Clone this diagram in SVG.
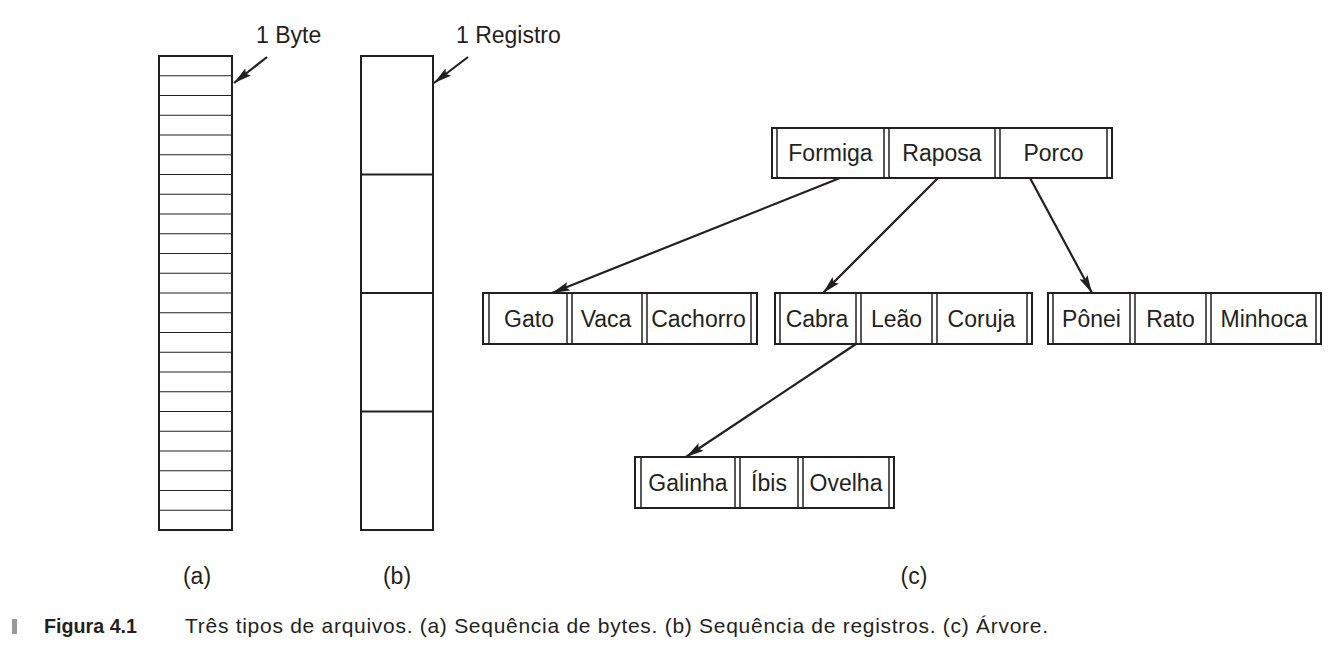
<svg xmlns="http://www.w3.org/2000/svg" width="1343" height="655" viewBox="0 0 1343 655">
<defs>
<style>
.t{font-family:"Liberation Sans",Arial,sans-serif;font-size:23px;fill:#231f20;text-anchor:middle}
.tl{font-family:"Liberation Sans",Arial,sans-serif;font-size:23px;fill:#231f20}
.box{fill:#fff;stroke:#231f20;stroke-width:2}
.div{stroke:#231f20;stroke-width:1.5}
.thin{stroke:#231f20;stroke-width:1.1}
.arr{stroke:#231f20;stroke-width:2.2;fill:none;marker-end:url(#ah)}
.cap{font-family:"Liberation Sans",Arial,sans-serif;font-size:21px;fill:#231f20}
</style>
<marker id="ah" viewBox="0 0 18 9" refX="18" refY="4.5" markerWidth="18" markerHeight="9" markerUnits="userSpaceOnUse" orient="auto">
<path d="M0,0 L18,4.5 L0,9 L3,4.5 Z" fill="#231f20"/>
</marker>
</defs>
<rect width="1343" height="655" fill="#fff"/>

<g id="colA">
<rect class="box" x="159" y="56" width="73" height="474"/>
<g class="thin">
<line x1="159" x2="232" y1="75.75" y2="75.75"/><line x1="159" x2="232" y1="95.5" y2="95.5"/>
<line x1="159" x2="232" y1="115.25" y2="115.25"/><line x1="159" x2="232" y1="135" y2="135"/>
<line x1="159" x2="232" y1="154.75" y2="154.75"/><line x1="159" x2="232" y1="174.5" y2="174.5"/>
<line x1="159" x2="232" y1="194.25" y2="194.25"/><line x1="159" x2="232" y1="214" y2="214"/>
<line x1="159" x2="232" y1="233.75" y2="233.75"/><line x1="159" x2="232" y1="253.5" y2="253.5"/>
<line x1="159" x2="232" y1="273.25" y2="273.25"/><line x1="159" x2="232" y1="293" y2="293"/>
<line x1="159" x2="232" y1="312.75" y2="312.75"/><line x1="159" x2="232" y1="332.5" y2="332.5"/>
<line x1="159" x2="232" y1="352.25" y2="352.25"/><line x1="159" x2="232" y1="372" y2="372"/>
<line x1="159" x2="232" y1="391.75" y2="391.75"/><line x1="159" x2="232" y1="411.5" y2="411.5"/>
<line x1="159" x2="232" y1="431.25" y2="431.25"/><line x1="159" x2="232" y1="451" y2="451"/>
<line x1="159" x2="232" y1="470.75" y2="470.75"/><line x1="159" x2="232" y1="490.5" y2="490.5"/>
<line x1="159" x2="232" y1="510.25" y2="510.25"/>
</g>
</g>

<g id="colB">
<rect class="box" x="361" y="56" width="72" height="474"/>
<line class="box" x1="361" x2="433" y1="174.5" y2="174.5"/>
<line class="box" x1="361" x2="433" y1="293" y2="293"/>
<line class="box" x1="361" x2="433" y1="411.5" y2="411.5"/>
</g>

<g id="labelByte"><text class="tl" x="256" y="43">1 Byte</text></g>
<g id="labelRegistro"><text class="tl" x="456" y="43">1 Registro</text></g>

<g id="nodeRoot">
<rect class="box" x="772" y="128" width="340" height="50"/>
<g class="div"><line x1="777" x2="777" y1="128" y2="178"/><line x1="884" x2="884" y1="128" y2="178"/><line x1="889" x2="889" y1="128" y2="178"/><line x1="995" x2="995" y1="128" y2="178"/><line x1="1000" x2="1000" y1="128" y2="178"/><line x1="1107" x2="1107" y1="128" y2="178"/></g>
<text class="t" x="830.5" y="161">Formiga</text><text class="t" x="942" y="161">Raposa</text><text class="t" x="1053.5" y="161">Porco</text>
</g>

<g id="nodeGato">
<rect class="box" x="483" y="293" width="274" height="51"/>
<g class="div"><line x1="489" x2="489" y1="293" y2="344"/><line x1="567" x2="567" y1="293" y2="344"/><line x1="572" x2="572" y1="293" y2="344"/><line x1="642" x2="642" y1="293" y2="344"/><line x1="647" x2="647" y1="293" y2="344"/><line x1="751" x2="751" y1="293" y2="344"/></g>
<text class="t" x="529" y="327">Gato</text><text class="t" x="606" y="327">Vaca</text><text class="t" x="698.5" y="327">Cachorro</text>
</g>

<g id="nodeCabra">
<rect class="box" x="775" y="293" width="257" height="51"/>
<g class="div"><line x1="780" x2="780" y1="293" y2="344"/><line x1="856" x2="856" y1="293" y2="344"/><line x1="861" x2="861" y1="293" y2="344"/><line x1="932" x2="932" y1="293" y2="344"/><line x1="937" x2="937" y1="293" y2="344"/><line x1="1027" x2="1027" y1="293" y2="344"/></g>
<text class="t" x="817" y="327">Cabra</text><text class="t" x="896.5" y="327">Leão</text><text class="t" x="981.5" y="327">Coruja</text>
</g>

<g id="nodePonei">
<rect class="box" x="1048" y="293" width="273" height="51"/>
<g class="div"><line x1="1053" x2="1053" y1="293" y2="344"/><line x1="1130" x2="1130" y1="293" y2="344"/><line x1="1135" x2="1135" y1="293" y2="344"/><line x1="1206" x2="1206" y1="293" y2="344"/><line x1="1211" x2="1211" y1="293" y2="344"/><line x1="1316" x2="1316" y1="293" y2="344"/></g>
<text class="t" x="1091.5" y="327">Pônei</text><text class="t" x="1170.5" y="327">Rato</text><text class="t" x="1264" y="327">Minhoca</text>
</g>

<g id="nodeGalinha">
<rect class="box" x="635" y="457" width="259" height="51"/>
<g class="div"><line x1="641" x2="641" y1="457" y2="508"/><line x1="735" x2="735" y1="457" y2="508"/><line x1="740" x2="740" y1="457" y2="508"/><line x1="798" x2="798" y1="457" y2="508"/><line x1="803" x2="803" y1="457" y2="508"/><line x1="889" x2="889" y1="457" y2="508"/></g>
<text class="t" x="688" y="491">Galinha</text><text class="t" x="769" y="491">Íbis</text><text class="t" x="846" y="491">Ovelha</text>
</g>

<g id="connectors">
<line class="arr" x1="267" y1="57" x2="234" y2="83"/>
<line class="arr" x1="468" y1="57" x2="434" y2="83"/>
<line class="arr" x1="840" y1="178" x2="552" y2="293"/>
<line class="arr" x1="938" y1="178" x2="823" y2="293"/>
<line class="arr" x1="1030" y1="178" x2="1092" y2="293"/>
<line class="arr" x1="856" y1="344" x2="686" y2="457"/>
</g>

<g id="sublabels">
<text class="t" x="197" y="584">(a)</text>
<text class="t" x="397" y="584">(b)</text>
<text class="t" x="914" y="584">(c)</text>
</g>

<g id="caption">
<rect x="12" y="619" width="5" height="15" fill="#999"/>
<text class="cap" x="44" y="633" font-weight="bold" textLength="93" lengthAdjust="spacingAndGlyphs">Figura 4.1</text>
<text class="cap" x="185" y="633" textLength="863" lengthAdjust="spacing">Três tipos de arquivos. (a) Sequência de bytes. (b) Sequência de registros. (c) Árvore.</text>
</g>
</svg>
